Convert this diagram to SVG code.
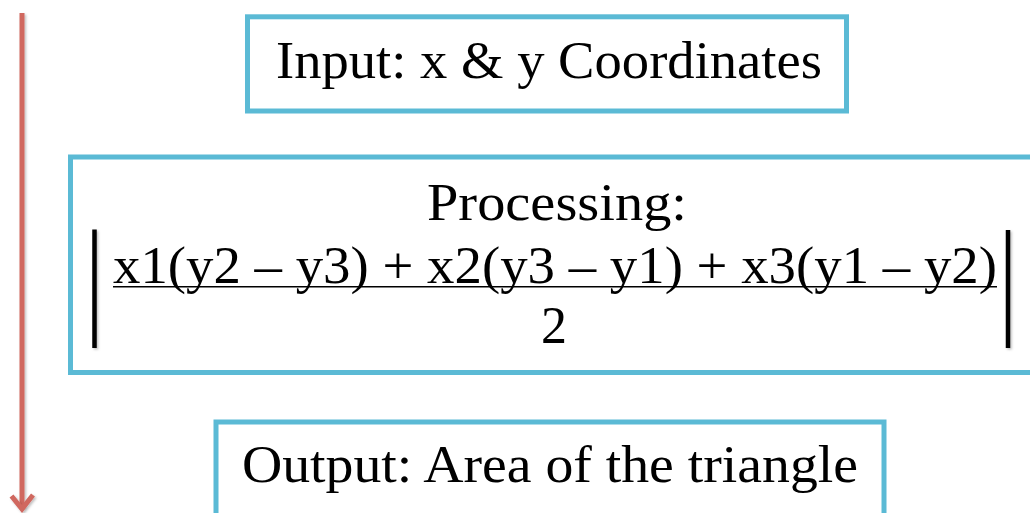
<svg xmlns="http://www.w3.org/2000/svg" width="1030" height="513" viewBox="0 0 1030 513">
  <style>
    .box { fill: #ffffff; stroke: #5BBAD5; stroke-width: 5; }
    .t { font-family: "Liberation Serif", "DejaVu Serif", serif; font-size: 52px; fill: #000000; }
    .bar { stroke: #000000; stroke-width: 4.5; filter: url(#sh); }
    .flow { stroke: #D0675F; stroke-width: 5; fill: none; filter: url(#sh); }
  </style>
  <defs>
    <filter id="sh" filterUnits="userSpaceOnUse" x="0" y="0" width="1030" height="513">
      <feDropShadow dx="1.5" dy="1.5" stdDeviation="1" flood-color="#000000" flood-opacity="0.25"/>
    </filter>
  </defs>
  <rect width="1030" height="513" fill="#ffffff"/>
  <g id="connectors">
    <line class="flow" x1="22" y1="13" x2="22" y2="508"/>
    <polyline class="flow" points="11.5,496 22,509 33,495" stroke-linejoin="miter"/>
  </g>
  <g id="input">
    <rect class="box" x="247.5" y="16.8" width="599" height="94.2"/>
    <text class="t" x="276" y="78.3" textLength="546" lengthAdjust="spacingAndGlyphs">Input: x &amp; y Coordinates</text>
  </g>
  <g id="processing">
    <rect class="box" x="70.5" y="157" width="1000" height="215.5"/>
    <text class="t" x="427" y="220" textLength="260" lengthAdjust="spacingAndGlyphs">Processing:</text>
    <line class="bar" x1="94.5" y1="229.5" x2="94.5" y2="348"/>
    <text class="t" x="113" y="282.7" textLength="884" lengthAdjust="spacingAndGlyphs">x1(y2 – y3) + x2(y3 – y1) + x3(y1 – y2)</text>
    <line x1="113" y1="286.7" x2="997" y2="286.7" stroke="#000000" stroke-width="1.5"/>
    <text class="t" x="554" y="343" text-anchor="middle">2</text>
    <line class="bar" x1="1008" y1="230" x2="1008" y2="348"/>
  </g>
  <g id="output">
    <rect class="box" x="216" y="422" width="668" height="120"/>
    <text class="t" x="242" y="481.7" textLength="616" lengthAdjust="spacingAndGlyphs">Output: Area of the triangle</text>
  </g>
</svg>
